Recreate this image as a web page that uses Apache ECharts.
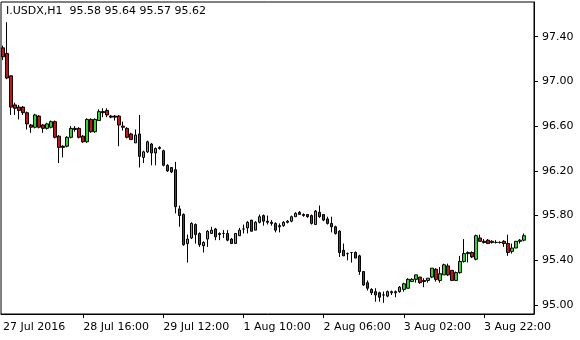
<!DOCTYPE html>
<html>
<head>
<meta charset="utf-8">
<script src="https://cdn.jsdelivr.net/npm/echarts@6.0.0/dist/echarts.min.js"></script>
<style>
html,body{margin:0;padding:0;background:#fff;}
#chart{width:580px;height:340px;}
</style>
</head>
<body>
<div id="chart"></div>
<script>
const symbol = 'I.USDX';
const timeframe = 'H1';
const timeLabels = ['27 Jul 2016','28 Jul 16:00','29 Jul 12:00','1 Aug 10:00','2 Aug 06:00','3 Aug 02:00','3 Aug 22:00'];
const barsPerLabel = 20;
const emptySlots = 2;
const yTicks = [95.00, 95.40, 95.80, 96.20, 96.60, 97.00, 97.40];

const opens = [97.30,97.25,97.05,96.79,96.77,96.77,96.72,96.61,96.59,96.69,
96.61,96.58,96.59,96.64,96.51,96.42,96.42,96.50,96.58,96.58,
96.51,96.46,96.66,96.55,96.65,96.73,96.74,96.69,96.69,96.69,
96.60,96.58,96.53,96.45,96.53,96.32,96.37,96.44,96.36,96.41,
96.38,96.25,96.23,96.21,95.86,95.81,95.55,95.60,95.72,95.64,
95.53,95.59,95.64,95.68,95.64,95.64,95.64,95.59,95.55,95.62,
95.68,95.69,95.76,95.67,95.74,95.80,95.75,95.74,95.73,95.70,
95.71,95.74,95.75,95.79,95.83,95.81,95.81,95.80,95.72,95.83,
95.81,95.77,95.73,95.70,95.66,95.49,95.46,95.47,95.47,95.44,
95.30,95.20,95.14,95.12,95.11,95.09,95.08,95.11,95.12,95.12,
95.14,95.15,95.21,95.23,95.25,95.22,95.22,95.25,95.32,95.22,
95.27,95.35,95.31,95.22,95.29,95.39,95.46,95.47,95.41,95.60,
95.57,95.58,95.56,95.56,95.56,95.57,95.55,95.48,95.51,95.57,
95.58];
const highs = [97.32,97.53,97.05,96.81,96.79,96.78,96.73,96.62,96.71,96.70,
96.62,96.63,96.65,96.65,96.52,96.43,96.51,96.60,96.60,96.59,
96.52,96.67,96.67,96.67,96.75,96.76,96.76,96.70,96.70,96.70,
96.64,96.59,96.54,96.57,96.70,96.38,96.47,96.45,96.41,96.42,
96.39,96.26,96.23,96.28,95.89,95.82,95.63,95.74,95.73,95.65,
95.57,95.67,95.70,95.69,95.65,95.67,95.67,95.60,95.64,95.69,
95.72,95.75,95.76,95.75,95.81,95.81,95.80,95.76,95.74,95.73,
95.75,95.76,95.80,95.83,95.84,95.82,95.81,95.81,95.85,95.89,
95.81,95.79,95.79,95.71,95.67,95.55,95.47,95.47,95.48,95.45,
95.30,95.22,95.15,95.15,95.12,95.12,95.13,95.13,95.13,95.17,
95.20,95.24,95.24,95.27,95.25,95.24,95.24,95.33,95.33,95.34,
95.37,95.37,95.31,95.30,95.44,95.59,95.48,95.48,95.63,95.63,
95.59,95.59,95.58,95.58,95.57,95.58,95.63,95.55,95.57,95.59,
95.64];
const lows = [97.19,97.02,96.70,96.70,96.66,96.70,96.57,96.54,96.58,96.58,
96.54,96.57,96.58,96.49,96.27,96.32,96.41,96.49,96.55,96.49,
96.45,96.45,96.54,96.54,96.65,96.68,96.68,96.67,96.65,96.42,
96.56,96.49,96.48,96.45,96.23,96.27,96.36,96.25,96.25,96.39,
96.24,96.19,96.18,95.82,95.70,95.53,95.38,95.59,95.55,95.52,
95.47,95.52,95.64,95.58,95.58,95.60,95.57,95.55,95.55,95.62,
95.64,95.64,95.66,95.67,95.73,95.71,95.72,95.71,95.65,95.65,
95.70,95.73,95.74,95.79,95.81,95.79,95.78,95.72,95.72,95.78,
95.75,95.72,95.65,95.63,95.43,95.44,95.40,95.38,95.42,95.27,
95.17,95.13,95.09,95.03,95.03,95.02,95.07,95.09,95.07,95.11,
95.12,95.15,95.21,95.20,95.19,95.16,95.20,95.24,95.21,95.20,
95.27,95.26,95.22,95.22,95.28,95.38,95.38,95.42,95.40,95.57,
95.55,95.55,95.55,95.55,95.55,95.52,95.44,95.46,95.51,95.55,
95.57];
const closes = [97.22,97.03,96.77,96.76,96.74,96.72,96.62,96.59,96.70,96.59,
96.58,96.62,96.64,96.50,96.41,96.41,96.50,96.58,96.57,96.50,
96.46,96.66,96.55,96.66,96.73,96.72,96.70,96.68,96.68,96.61,
96.59,96.50,96.48,96.52,96.33,96.37,96.46,96.36,96.40,96.40,
96.25,96.20,96.19,95.88,95.80,95.54,95.59,95.73,95.63,95.54,
95.56,95.66,95.67,95.61,95.63,95.64,95.58,95.55,95.64,95.67,
95.68,95.74,95.66,95.74,95.79,95.75,95.74,95.73,95.67,95.71,
95.74,95.75,95.79,95.82,95.81,95.80,95.79,95.73,95.84,95.79,
95.76,95.73,95.70,95.64,95.47,95.44,95.46,95.47,95.42,95.30,
95.18,95.15,95.11,95.09,95.07,95.09,95.12,95.12,95.11,95.16,
95.19,95.23,95.23,95.27,95.20,95.21,95.24,95.33,95.23,95.28,
95.36,95.27,95.22,95.29,95.39,95.46,95.47,95.43,95.62,95.57,
95.56,95.55,95.57,95.56,95.56,95.55,95.47,95.51,95.57,95.58,
95.62];

const n = opens.length;
const totalSlots = n + emptySlots;
const categories = [];
for (let i = 0; i < totalSlots; i++) {
  const k = i / barsPerLabel;
  categories.push(i % barsPerLabel === 0 && k < timeLabels.length ? timeLabels[k] : '');
}
const candleData = opens.map((o, i) => [o, closes[i], lows[i], highs[i]]);
const last = n - 1;
const fmt = v => v.toFixed(2);
const titleText = symbol + ',' + timeframe + '  ' +
  [opens[last], highs[last], lows[last], closes[last]].map(fmt).join(' ');

const FONT = 'DejaVu Sans';
const chart = echarts.init(document.getElementById('chart'), null, {renderer: 'canvas'});
chart.setOption({
  animation: false,
  backgroundColor: '#ffffff',
  title: {
    text: titleText,
    left: 6, top: 6, padding: 0,
    textStyle: {fontFamily: FONT, fontSize: 11, fontWeight: 'normal', color: '#000'}
  },
  grid: {
    left: 1, right: 46, top: 2, bottom: 26,
    show: true, borderColor: '#000', borderWidth: 1, backgroundColor: '#fff'
  },
  xAxis: {
    type: 'category',
    data: categories,
    boundaryGap: true,
    axisLine: {show: true, lineStyle: {color: '#000', width: 1}},
    axisTick: {show: true, alignWithLabel: true, length: 4, lineStyle: {color: '#000'},
      interval: (i, v) => v !== '' && i > 0},
    axisLabel: {interval: 0, align: 'left', margin: 8, color: '#000',
      fontFamily: FONT, fontSize: 11},
    splitLine: {show: false}
  },
  yAxis: {
    type: 'value',
    position: 'right',
    min: 94.92, max: 97.71,
    axisLine: {show: true, lineStyle: {color: '#000', width: 1}},
    axisTick: {show: true, length: 4, lineStyle: {color: '#000'}, customValues: yTicks},
    axisLabel: {customValues: yTicks, formatter: v => fmt(v), margin: 8, color: '#000',
      fontFamily: FONT, fontSize: 11},
    splitLine: {show: false}
  },
  series: [{
    type: 'candlestick',
    data: candleData,
    barWidth: 3,
    itemStyle: {
      color: '#22dd22', color0: '#d01010',
      borderColor: '#000', borderColor0: '#000', borderWidth: 1
    },
    markLine: {
      silent: true,
      symbol: 'none',
      lineStyle: {opacity: 0},
      data: [{yAxis: closes[last]}],
      label: {
        position: 'end', distance: 2,
        formatter: () => fmt(closes[last]),
        backgroundColor: '#000', color: '#fff',
        padding: [1, 4, 0, 4],
        fontFamily: FONT, fontSize: 11
      }
    }
  }]
});
</script>
</body>
</html>
